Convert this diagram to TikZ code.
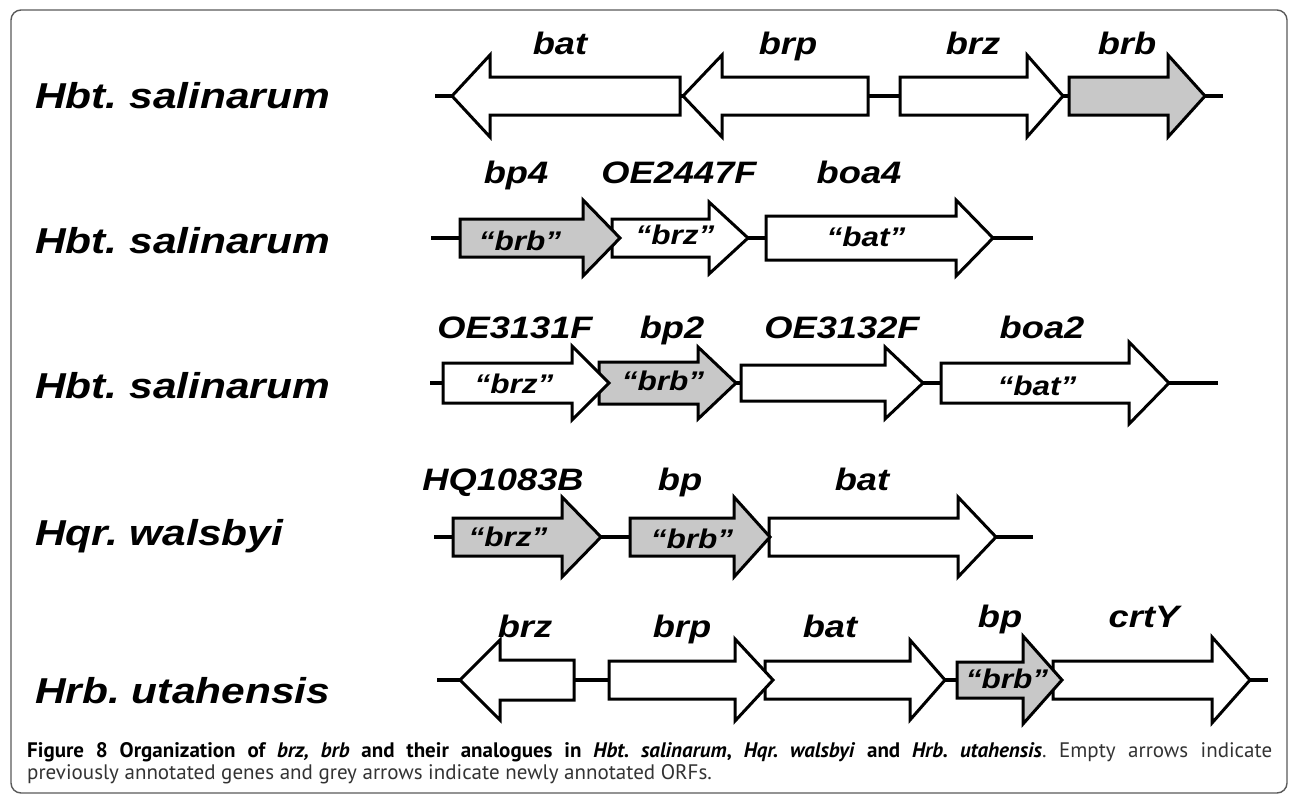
\documentclass[tikz,border=0pt]{standalone}
\usepackage{fontspec}
\newfontfamily\spfont[FakeStretch=1.18]{Liberation Sans}
\newfontfamily\gnfont[FakeStretch=1.17]{Liberation Sans}
\newfontfamily\capfont{PT Sans}
\frenchspacing
\definecolor{genegray}{RGB}{200,200,200}
\definecolor{framegray}{RGB}{90,90,90}
\newcommand{\gene}[8]{%
  \draw[#8] (#2,#5-#6) -- (#3,#5-#6) -- (#3,#5-#7) -- (#4,#5) -- (#3,#5+#7) -- (#3,#5+#6) -- (#2,#5+#6) -- cycle;
  \coordinate (#1-tail) at (#2,#5);
  \coordinate (#1-tip) at (#4,#5);}
\tikzset{
  genewhite/.style={draw=black, fill=white, line width=3pt, miter limit=4},
  genegrey/.style={draw=black, fill=genegray, line width=3pt, miter limit=4},
  backbone/.style={draw=black, line width=4pt},
  species/.style={anchor=base west, inner sep=0pt, font=\spfont\bfseries\itshape\fontsize{36}{42}\selectfont},
  genelabel/.style={anchor=base, inner sep=0pt, font=\gnfont\bfseries\itshape\fontsize{31}{36}\selectfont},
  quotelabel/.style={anchor=base, inner sep=0pt, font=\gnfont\bfseries\itshape\fontsize{27}{32}\selectfont},
  caption/.style={anchor=base west, inner sep=0pt, font=\capfont\fontsize{21}{23}\selectfont, text=black!80}
}
\begin{document}
\begin{tikzpicture}[x=1pt,y=-1pt]
\useasboundingbox (0,0) rectangle (1290,795);
\fill[white] (0,0) rectangle (1290,795);
\draw[framegray, line width=1.4pt, rounded corners=10pt] (11,10) rectangle (1287,793);

% species labels
\node[species] (sp1) at (35,108) {Hbt. salinarum};
\node[species] (sp2) at (35,253) {Hbt. salinarum};
\node[species] (sp3) at (35,398) {Hbt. salinarum};
\node[species] (sp4) at (35,545) {Hqr. walsbyi};
\node[species] (sp5) at (35,703) {Hrb. utahensis};

% ---------- Row 1 ----------
\coordinate (L1s) at (435,96);
\coordinate (L1e) at (1223,96);
\draw[backbone] (L1s) -- (L1e);
\gene{r1brb}{1069}{1168}{1205}{96}{19}{41}{genegrey}
\gene{r1brz}{900}{1027}{1063}{96}{19}{41}{genewhite}
\gene{r1brp}{868}{722}{683}{96}{19}{41}{genewhite}
\gene{r1bat}{680}{490}{452}{96}{19}{41}{genewhite}
\node[genelabel] (t1a) at (560,54) {bat};
\node[genelabel] (t1b) at (788,54) {brp};
\node[genelabel] (t1c) at (973,54) {brz};
\node[genelabel] (t1d) at (1127,54) {brb};

% ---------- Row 2 ----------
\coordinate (L2s) at (431,238);
\coordinate (L2e) at (1033,238);
\draw[backbone] (L2s) -- (L2e);
\gene{r2boa}{766}{956}{993}{238}{22}{38}{genewhite}
\gene{r2oe}{612}{709}{748}{238}{19}{36}{genewhite}
\gene{r2bp}{460}{583}{620}{238}{19}{38}{genegrey}
\node[genelabel] (t2a) at (516,183) {bp4};
\node[genelabel] (t2b) at (679,183) {OE2447F};
\node[genelabel] (t2c) at (859,183) {boa4};
\node[quotelabel] (q2a) at (520,250) {“brb”};
\node[quotelabel] (q2b) at (675,244) {“brz”};
\node[quotelabel] (q2c) at (866,246) {“bat”};

% ---------- Row 3 ----------
\coordinate (L3s) at (430,383);
\coordinate (L3e) at (1218,383);
\draw[backbone] (L3s) -- (L3e);
\gene{r3boa}{941}{1129}{1169}{383}{20}{41}{genewhite}
\gene{r3oe2}{741}{885}{923}{383}{18}{36}{genewhite}
\gene{r3bp}{599}{698}{736}{383}{21}{36}{genegrey}
\gene{r3oe1}{443}{572}{609}{383}{20}{37}{genewhite}
\node[genelabel] (t3a) at (515,338) {OE3131F};
\node[genelabel] (t3b) at (672,338) {bp2};
\node[genelabel] (t3c) at (842,338) {OE3132F};
\node[genelabel] (t3d) at (1042,338) {boa2};
\node[quotelabel] (q3a) at (514,393) {“brz”};
\node[quotelabel] (q3b) at (663,390) {“brb”};
\node[quotelabel] (q3c) at (1037,395) {“bat”};

% ---------- Row 4 ----------
\coordinate (L4s) at (434,537);
\coordinate (L4e) at (1033,537);
\draw[backbone] (L4s) -- (L4e);
\gene{r4bat}{769}{958}{996}{537}{19}{40}{genewhite}
\gene{r4bp}{630}{734}{770}{537}{19}{40}{genegrey}
\gene{r4brz}{453}{562}{601}{537}{19}{40}{genegrey}
\node[genelabel] (t4a) at (503,490) {HQ1083B};
\node[genelabel] (t4b) at (680,490) {bp};
\node[genelabel] (t4c) at (862,490) {bat};
\node[quotelabel] (q4a) at (508,546) {“brz”};
\node[quotelabel] (q4b) at (692,548) {“brb”};

% ---------- Row 5 ----------
\coordinate (L5s) at (437,680);
\coordinate (L5e) at (1268,680);
\draw[backbone] (L5s) -- (L5e);
\gene{r5crt}{1053}{1212}{1250}{680}{19}{43}{genewhite}
\gene{r5bp}{957}{1023}{1062}{680}{18}{44}{genegrey}
\gene{r5bat}{765}{910}{945}{680}{19}{40}{genewhite}
\gene{r5brp}{609}{735}{773}{680}{19}{41}{genewhite}
\gene{r5brz}{574}{500}{460}{680}{20}{40}{genewhite}
\node[genelabel] (t5a) at (525,637) {brz};
\node[genelabel] (t5b) at (682,637) {brp};
\node[genelabel] (t5c) at (830,637) {bat};
\node[genelabel] (t5d) at (1000,627) {bp};
\node[genelabel] (t5e) at (1144,627) {crtY};
\node[quotelabel] (q5a) at (1007,688) {“brb”};

% ---------- Caption ----------
\node[caption] (cap1) at (27,757) {\hbox to 1245pt{\textbf{\color{black}Figure 8 Organization of \textit{brz, brb} and their analogues in \textit{Hbt. salinarum}, \textit{Hqr. walsbyi} and \textit{Hrb. utahensis}}. Empty arrows indicate}};
\node[caption] (cap2) at (27,779) {previously annotated genes and grey arrows indicate newly annotated ORFs.};
\end{tikzpicture}
\end{document}
